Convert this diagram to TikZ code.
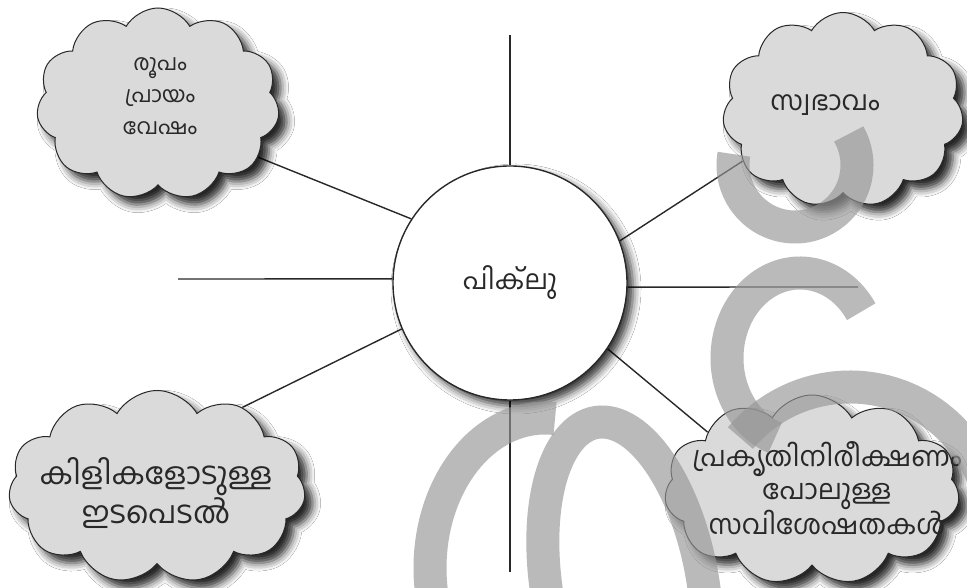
\documentclass[tikz,border=0pt]{standalone}
\usepackage{fontspec}
\newfontfamily\mal[Script=Malayalam]{Hind Kochi}
\usetikzlibrary{shapes.symbols,shadows.blur,backgrounds}
\definecolor{cloudfill}{RGB}{218,218,218}
\definecolor{wmgray}{RGB}{150,150,150}
\definecolor{inkc}{RGB}{40,40,40}
\begin{document}
\begin{tikzpicture}[x=1pt,y=1pt,
  cloudbox/.style={cloud, cloud puffs=11, cloud puff arc=120, cloud ignores aspect,
    draw=inkc, line width=1pt, fill=cloudfill, inner sep=0pt,
    blur shadow={shadow xshift=8pt, shadow yshift=-8pt, shadow blur radius=8pt, shadow opacity=85}},
  cloudtext/.style={align=center, text=inkc, inner sep=0pt},
  hub/.style={circle, draw=inkc, line width=1.4pt, fill=white, minimum size=234pt,
    text=inkc, font=\mal\fontsize{27}{30}\selectfont,
    blur shadow={shadow xshift=6pt, shadow yshift=-6pt, shadow blur radius=8pt, shadow opacity=80}},
  conn/.style={draw=inkc, line width=1.4pt},
  wm/.style={draw=wmgray, line width=33pt, opacity=0.65}]
\useasboundingbox (0,0) rectangle (967,588);

\node[hub] (c) at (510,305) {പിക്^^^^200cലു};

\node[cloudbox, minimum width=243pt, minimum height=192pt] (tl) at (158,484) {};
\node[cloudbox, minimum width=241pt, minimum height=195pt] (tr) at (843,478) {};
\node[cloudbox, minimum width=297pt, minimum height=193pt] (bl) at (157,101) {};
\node[cloudbox, minimum width=295pt, minimum height=190pt] (br) at (812,98) {};

\node[cloudtext, font=\mal\fontsize{22}{32}\selectfont] (tlt) at (160,492) {രൂപം\\പ്രായം\\വേഷം};
\node[cloudtext, font=\mal\fontsize{27}{32}\selectfont] (trt) at (825,483) {സ്വഭാവം};
\node[cloudtext, font=\mal\fontsize{30.5}{30}\selectfont] (blt) at (156,95) {കിളികളോടുള്ള\\ഇടപെടൽ};
\node[cloudtext, font=\mal\fontsize{27.5}{33}\selectfont] (brt) at (827,100) {പ്രകൃതിനിരീക്ഷണം\\പോലുള്ള\\സവിശേഷതകൾ};

\coordinate (ptop) at (510,553);
\coordinate (pbot) at (510,16);
\coordinate (pl) at (178,309);
\coordinate (pr) at (858,301);

\begin{scope}[on background layer]
  \fill[white] (0,0) rectangle (967,588);
  \draw[conn] (c.north) -- (ptop);
  \draw[conn] (c.south) -- (pbot);
  \draw[conn] (pl) -- (c.178);
  \draw[conn] (c.-2) -- (pr);
  \draw[conn] (tl.-28) -- (c.147.5);
  \draw[conn] (c.21.9) -- (tr.-153);
  \draw[conn] (c.-34.6) -- (br.151.4);
  \draw[conn] (c.-157.2) -- (bl.43);
\end{scope}

\begin{scope}
  \clip (0,0) rectangle (967,588);
  \draw[wm] (545,20) ++(200:115 and 150) arc[start angle=200, end angle=85, x radius=115, y radius=150];
  \begin{scope}[shift={(625,0)}, rotate=10]
    \draw[wm] (-15:78 and 168) arc[start angle=-15, end angle=195, x radius=78, y radius=168];
  \end{scope}
  \draw[wm] (800,230) ++(33:73 and 85) arc[start angle=33, end angle=250, x radius=73, y radius=85];
  \draw[wm] (850,58) ++(140:143) arc[start angle=140, end angle=20, radius=143];
  \draw[wm] (795,423) ++(170:62) arc[start angle=170, end angle=390, radius=62];
\end{scope}
\end{tikzpicture}
\end{document}
